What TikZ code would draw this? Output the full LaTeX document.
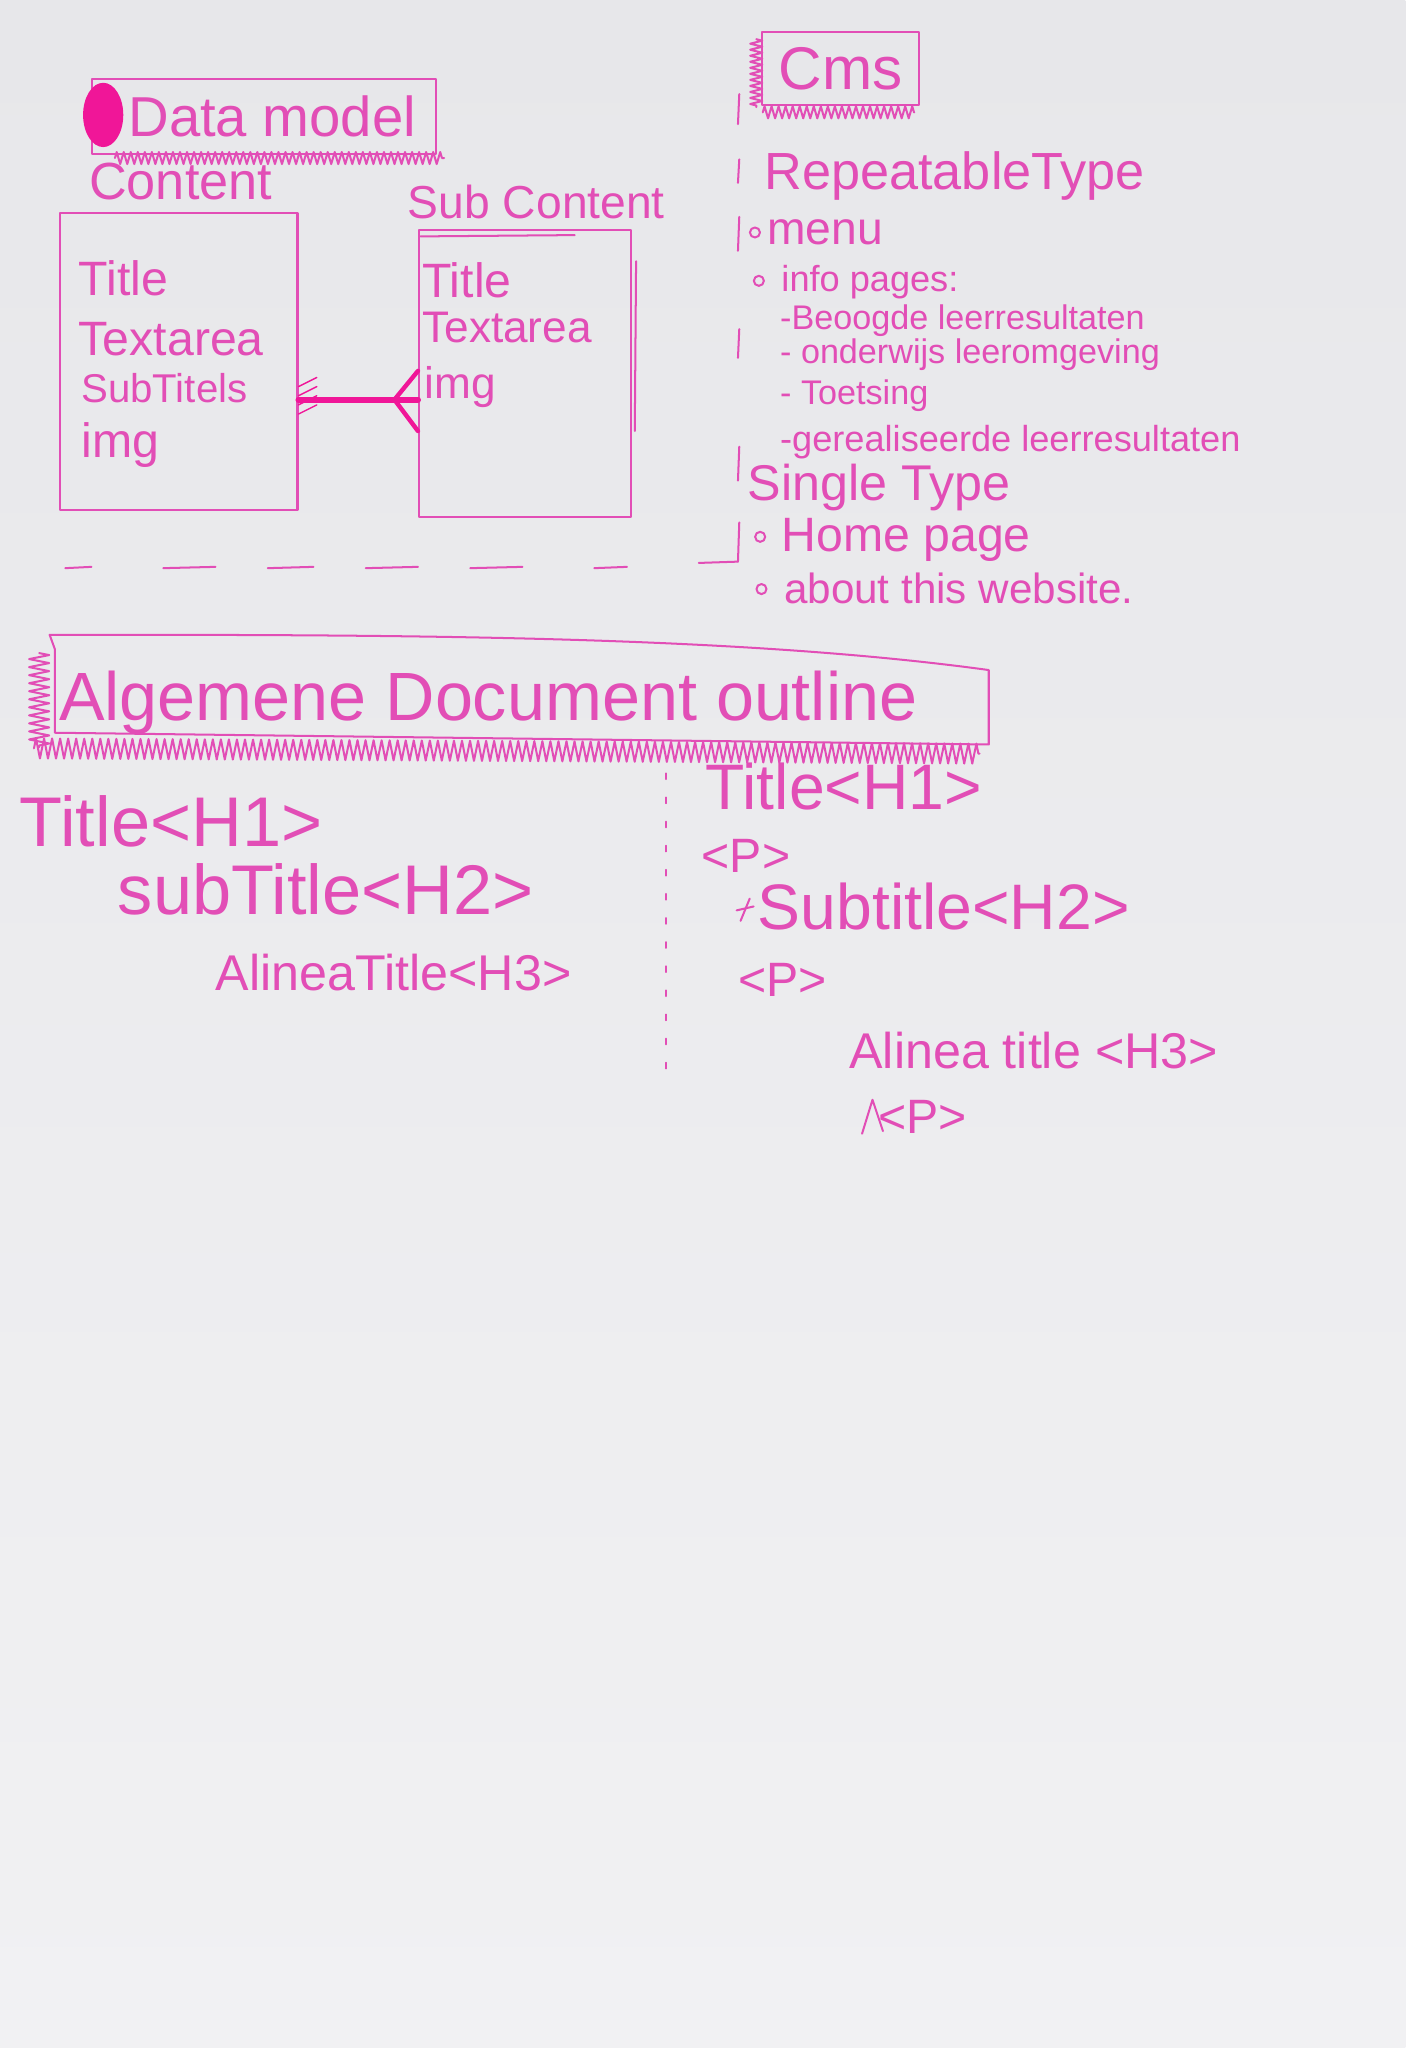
\documentclass[tikz,border=0pt]{standalone}
\usepackage{fontspec}
\setmainfont{Liberation Sans}
\usetikzlibrary{decorations.pathmorphing}
\definecolor{paper}{RGB}{231,231,234}
\definecolor{paperlight}{RGB}{241,241,243}
\definecolor{ink}{RGB}{226,78,182}
\definecolor{inkdark}{RGB}{240,22,152}
\tikzset{
  pen/.style={draw=ink, line width=1pt, line cap=round, line join=round},
  heavy/.style={draw=inkdark, line width=2.2pt, line cap=round},
  zig/.style={pen, decorate, decoration={zigzag, segment length=4pt, amplitude=3pt}},
  hw/.style={text=ink, inner sep=0pt, anchor=base west, font=\fontsize{#1}{#1}\selectfont},
  hw/.default=24,
  box/.style={pen, rectangle, inner sep=0pt, anchor=north west},
}
\begin{document}
\begin{tikzpicture}[x=0.65pt, y=-0.65pt]
% paper
\shade[top color=paper, bottom color=paperlight] (0,0) rectangle (1076,1568);
\useasboundingbox (0,0) rectangle (1076,1568);

% ---------- Data model ----------
\node[box, minimum width=171pt, minimum height=37pt, text=ink,
      font=\fontsize{28}{28}\selectfont, anchor=north west] (dm) at (70,60) {\hspace*{8pt}Data model};
\fill[inkdark] (79,88) ellipse[x radius=10pt, y radius=16pt];
\draw[zig, decoration={segment length=3.5pt, amplitude=3pt}] (88,121) -- (340,121);

\node[hw=26] (lcontent) at (68,153) {Content};
\node[hw=23] (lsub) at (312,167) {Sub Content};

% entity boxes
\node[box, minimum width=118.3pt, minimum height=148.2pt] (content) at (45,162) {};
\node[box, minimum width=105.3pt, minimum height=143pt] (subcontent) at (320,175) {};
\draw[pen] (322,181) -- (440,180);
\draw[pen] (487,200) -- (486,330);

\node[hw=24] (c1) at (60,226) {Title};
\node[hw=24] (c2) at (60,272) {Textarea};
\node[hw=20] (c3) at (62,308) {SubTitels};
\node[hw=24] (c4) at (62,350) {img};

\node[hw=24] (s1) at (323,228) {Title};
\node[hw=22] (s2) at (323,262) {Textarea};
\node[hw=22] (s3) at (325,305) {img};

% one-to-many relation
\draw[heavy, line width=3pt] (content.east |- 0,306) -- (subcontent.west |- 0,306);
\draw[heavy] (302,306) -- (subcontent.west |- 0,284);
\draw[heavy] (302,306) -- (subcontent.west |- 0,330);
\foreach \yy in {292,299,306,313}
  \draw[pen, draw=inkdark, line width=0.7pt] (content.east |- 0,\yy+4) -- ++(14,-7);

% dashed separator
\foreach \xa/\xb in {50/70,125/165,205/240,280/320,360/400,455/480}
  \draw[pen] (\xa,435) -- (\xb,434);

% ---------- CMS ----------
\node[box, minimum width=78pt, minimum height=36pt, text=ink,
      font=\fontsize{30}{30}\selectfont] (cms) at (583,24) {Cms};
\draw[zig, decoration={segment length=3pt, amplitude=3pt}] (579,30) -- (579,82);
\draw[zig, decoration={segment length=3.5pt, amplitude=3pt}] (584,86) -- (700,86);

\foreach \ya/\yb in {72/95,122/140,166/192,252/274,342/368,400/430}
  \draw[pen] (566,\ya) -- (565,\yb);
\draw[pen] (535,431) -- (565,430);

\node[hw=26] (rt) at (585,145) {RepeatableType};
\draw[pen] (578,178) circle[radius=2.5pt];
\node[hw=23] (menu) at (587,187) {menu};
\draw[pen] (581,215) circle[radius=2.5pt];
\node[hw=18] (info) at (598,223) {info pages:};
\node[hw=17] (i1) at (597,252) {-Beoogde leerresultaten};
\node[hw=17] (i2) at (597,278) {- onderwijs leeromgeving};
\node[hw=17] (i3) at (597,310) {- Toetsing};
\node[hw=18] (i4) at (597,346) {-gerealiseerde leerresultaten};
\node[hw=25] (st) at (572,383) {Single Type};
\draw[pen] (582,411) circle[radius=2.5pt];
\node[hw=24] (home) at (598,422) {Home page};
\draw[pen] (583,451) circle[radius=2.5pt];
\node[hw=21] (about) at (600,462) {about this website.};

% ---------- document outline ----------
\draw[pen] (42,497) -- (38,486) .. controls (300,486) and (560,486) .. (757,513)
           -- (757,570) -- (42,561) -- cycle;
\draw[zig, decoration={segment length=4pt, amplitude=5pt}] (30,500) -- (30,572);
\draw[zig, decoration={segment length=4pt, amplitude=5pt}] (26,573) -- (750,577);
\node[hw=34] (outline) at (45,552) {Algemene Document outline};

\node[hw=35] (l1) at (15,648) {Title<H1>};
\node[hw=35] (l2) at (90,700) {subTitle<H2>};
\node[hw=25] (l3) at (165,758) {AlineaTitle<H3>};

\draw[pen, line width=0.8pt, dash pattern=on 3pt off 9pt] (510,592) -- (510,830);

\node[hw=32] (r1) at (540,620) {Title<H1>};
\node[hw=24] (r2) at (537,668) {<P>};
\draw[pen] (567,705) -- (574,688);
\draw[pen] (564,697) -- (577,694);
\node[hw=32] (r3) at (580,712) {Subtitle<H2>};
\node[hw=24] (r4) at (565,763) {<P>};
\node[hw=25] (r5) at (650,818) {Alinea title <H3>};
\draw[pen] (660,868) -- (668,842) -- (676,866);
\node[hw=24] (r6) at (672,868) {<P>};
\end{tikzpicture}
\end{document}
